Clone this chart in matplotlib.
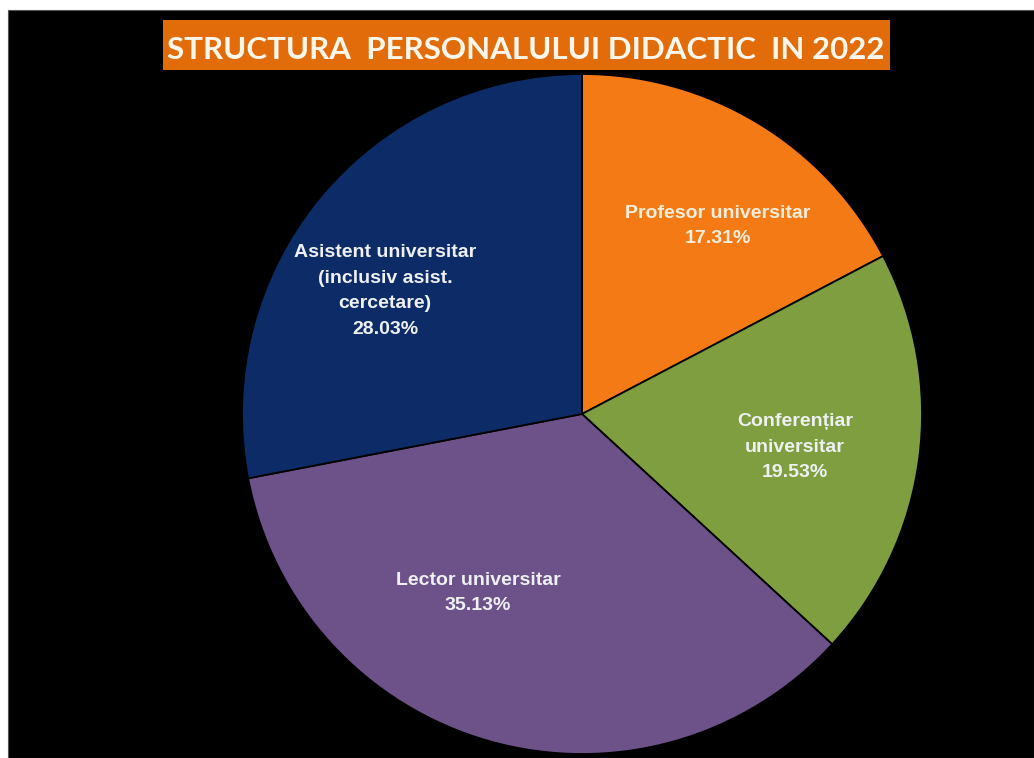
import matplotlib.pyplot as plt
from matplotlib.patches import Rectangle

# ------------------------------------------------------------
# data
# ------------------------------------------------------------
categorii = ["Profesor universitar",
             "Conferențiar\nuniversitar",
             "Lector universitar",
             "Asistent universitar\n(inclusiv asist.\ncercetare)"]
procente = [17.31, 19.53, 35.13, 28.03]
culori = ["#F47A16", "#7F9E3F", "#6D5189", "#0D2B67"]

titlu = "STRUCTURA  PERSONALULUI DIDACTIC  IN 2022"

# label anchor positions (pixels, y from top)
poz_etichete = [(718, 226), (795, 447), (478, 593), (385, 291)]

W, H = 1034, 758
fig = plt.figure(figsize=(W / 100, H / 100), dpi=100, facecolor="white")
ax = fig.add_axes([0, 0, 1, 1])

# black panel
ax.add_patch(Rectangle((8, 0), W - 8, H - 10, facecolor="black",
                       edgecolor="#555555", lw=0.8, zorder=0))

cx, cy, r = 582, H - 414, 340
wedges, _ = ax.pie(procente, colors=culori, startangle=90,
                   counterclock=False, center=(cx, cy), radius=r,
                   wedgeprops=dict(edgecolor="black", linewidth=1.3))

ax.set_xlim(0, W)
ax.set_ylim(0, H)
ax.set_aspect("equal")
ax.axis("off")

for cat, p, (x, y) in zip(categorii, procente, poz_etichete):
    col = "#F7EEDC" if p == 17.31 else "#EEF0F2"
    ax.text(x, H - y, f"{cat}\n{p:.2f}%", ha="center", va="center",
            fontsize=14, fontweight="bold", color=col, linespacing=1.68,
            family=["Liberation Sans Narrow", "Liberation Sans", "DejaVu Sans"])

# title box
ax.add_patch(Rectangle((163, H - 70), 727, 50, facecolor="#E36C0A",
                       edgecolor="none", zorder=3))
ax.text(526, H - 50, titlu, ha="center", va="center", fontsize=22.5,
        fontweight="bold", color="#FFF6EC", zorder=4,
        family=["Lato", "DejaVu Sans"])

fig.savefig("out.png", dpi=100, facecolor=fig.get_facecolor())
